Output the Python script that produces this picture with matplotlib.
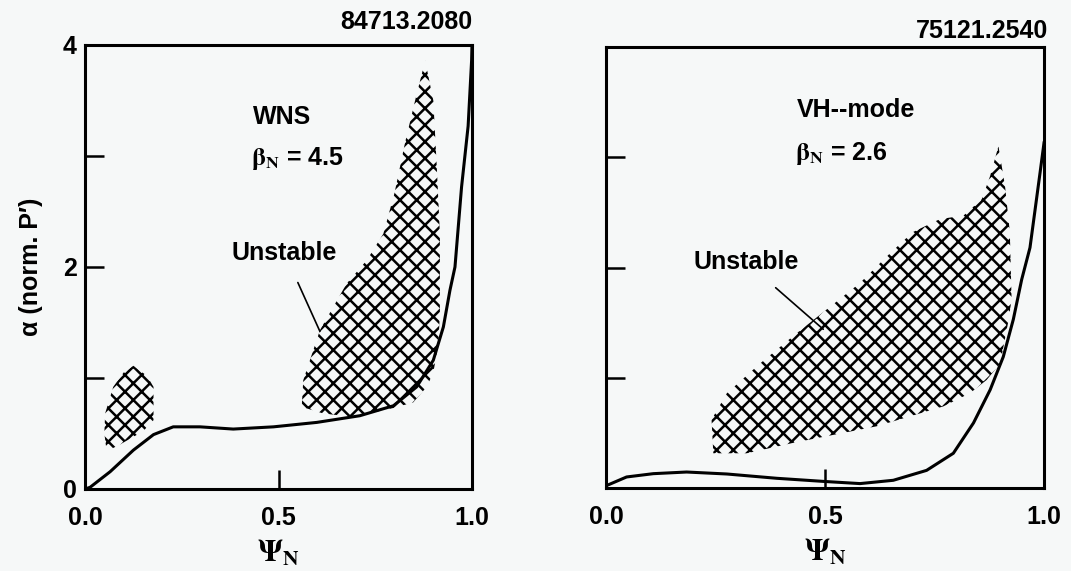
import numpy as np
import matplotlib
matplotlib.use('Agg')
import matplotlib.pyplot as plt

plt.rcParams['font.family'] = ['Liberation Sans Narrow', 'Liberation Sans', 'DejaVu Sans']
plt.rcParams['font.weight'] = 'bold'
plt.rcParams['mathtext.fontset'] = 'stix'
plt.rcParams['hatch.linewidth'] = 1.8

# left panel (WNS, 84713.2080)
wns_x = [0.0, 0.013, 0.065, 0.125, 0.177, 0.228, 0.297, 0.383, 0.487, 0.599, 0.71,
         0.797, 0.857, 0.90, 0.926, 0.943, 0.956, 0.973, 0.99, 0.999, 1.0]
wns_y = [0.0, 0.015, 0.156, 0.35, 0.49, 0.56, 0.56, 0.54, 0.56, 0.60, 0.66,
         0.75, 0.92, 1.16, 1.46, 1.79, 2.0, 2.72, 3.27, 3.86, 4.0]
wns_blob_x = [0.125, 0.16, 0.177, 0.177, 0.15, 0.125, 0.09, 0.056, 0.05, 0.052, 0.073, 0.10]
wns_blob_y = [1.11, 1.02, 0.92, 0.62, 0.52, 0.47, 0.40, 0.34, 0.50, 0.68, 0.92, 1.05]
wns_hatch_x = [0.879, 0.90, 0.909, 0.917, 0.917, 0.917, 0.913, 0.90, 0.883, 0.848, 0.797,
               0.693, 0.616, 0.56, 0.564, 0.607, 0.676, 0.728, 0.771, 0.80, 0.827, 0.853]
wns_hatch_y = [3.86, 3.50, 2.90, 2.30, 1.76, 1.58, 1.30, 1.05, 0.92, 0.78, 0.73,
               0.65, 0.68, 0.74, 0.98, 1.43, 1.85, 2.06, 2.30, 2.67, 3.12, 3.50]

# right panel (VH-mode, 75121.2540)
vh_x = [0.0, 0.047, 0.108, 0.184, 0.276, 0.39, 0.496, 0.58, 0.656, 0.732, 0.793,
        0.839, 0.877, 0.907, 0.93, 0.949, 0.968, 0.991, 1.0]
vh_y = [0.02, 0.10, 0.13, 0.145, 0.127, 0.088, 0.06, 0.04, 0.07, 0.16, 0.315,
        0.59, 0.89, 1.19, 1.53, 1.89, 2.18, 2.86, 3.13]
vh_hatch_x = [0.896, 0.911, 0.922, 0.926, 0.918, 0.90, 0.869, 0.831, 0.77, 0.694, 0.618,
              0.542, 0.428, 0.321, 0.245, 0.241, 0.276, 0.352, 0.428, 0.504, 0.58,
              0.641, 0.70, 0.763, 0.816, 0.858, 0.877]
vh_hatch_y = [3.10, 2.74, 2.32, 1.71, 1.50, 1.13, 0.98, 0.86, 0.74, 0.65, 0.56,
              0.50, 0.41, 0.315, 0.315, 0.62, 0.86, 1.13, 1.38, 1.62, 1.86,
              2.10, 2.32, 2.44, 2.47, 2.62, 2.83]

W, H = 1071, 571
bg = '#f6f8f8'
fig = plt.figure(figsize=(W / 100, H / 100), dpi=100, facecolor=bg)
ax1 = fig.add_axes([85 / W, (H - 489) / H, 387 / W, 444 / H])
ax2 = fig.add_axes([606 / W, (H - 488) / H, 438 / W, 441 / H])


def style(ax, ylabels):
    ax.set_facecolor(bg)
    ax.set_xlim(0, 1)
    ax.set_ylim(0, 4)
    for s in ax.spines.values():
        s.set_linewidth(2.2)
    ax.set_xticks([0.0, 0.5, 1.0])
    ax.set_xticklabels(['0.0', '0.5', '1.0'])
    ax.set_yticks([0, 1, 2, 3, 4])
    ax.set_yticklabels(['0', '', '2', '', '4'] if ylabels else [])
    ax.tick_params(direction='in', length=14, width=1.8, labelsize=18)
    ax.tick_params(axis='x', pad=12)
    ax.tick_params(axis='y', pad=6)
    ax.set_xlabel(r'$\mathrm{\Psi}_{\mathsf{N}}$', fontsize=22, labelpad=6)


style(ax1, True)
style(ax2, False)

hatch_kw = dict(facecolor='none', edgecolor='black', hatch='xx', lw=0)
ax1.fill(wns_blob_x, wns_blob_y, **hatch_kw)
ax1.fill(wns_hatch_x, wns_hatch_y, **hatch_kw)
ax1.plot(wns_x, wns_y, color='black', lw=2.2)
ax1.text(0.434, 3.35, 'WNS', fontsize=18, va='center')
ax1.text(0.43, 2.98, r'$\mathrm{\beta}_{\mathsf{N}}$ = 4.5', fontsize=18, va='center')
ax1.annotate('Unstable', xy=(0.607, 1.42), xytext=(0.515, 2.13), fontsize=18,
             ha='center', va='center',
             arrowprops=dict(arrowstyle='-', color='black', lw=1.2, shrinkA=12, shrinkB=0))
ax1.text(1.0, 1.025, '84713.2080', transform=ax1.transAxes, ha='right', va='bottom', fontsize=18)
ax1.set_ylabel('α (norm. P′)', fontsize=18, fontweight='bold', labelpad=14)

ax2.fill(vh_hatch_x, vh_hatch_y, **hatch_kw)
ax2.plot(vh_x, vh_y, color='black', lw=2.2)
ax2.text(0.436, 3.43, 'VH--mode', fontsize=18, va='center')
ax2.text(0.432, 3.03, r'$\mathrm{\beta}_{\mathsf{N}}$ = 2.6', fontsize=18, va='center')
ax2.annotate('Unstable', xy=(0.496, 1.44), xytext=(0.32, 2.05), fontsize=18,
             ha='center', va='center',
             arrowprops=dict(arrowstyle='-', color='black', lw=1.2, shrinkA=12, shrinkB=0))
ax2.text(1.01, 1.01, '75121.2540', transform=ax2.transAxes, ha='right', va='bottom', fontsize=18)

fig.savefig('out.png', dpi=100, facecolor=fig.get_facecolor())
